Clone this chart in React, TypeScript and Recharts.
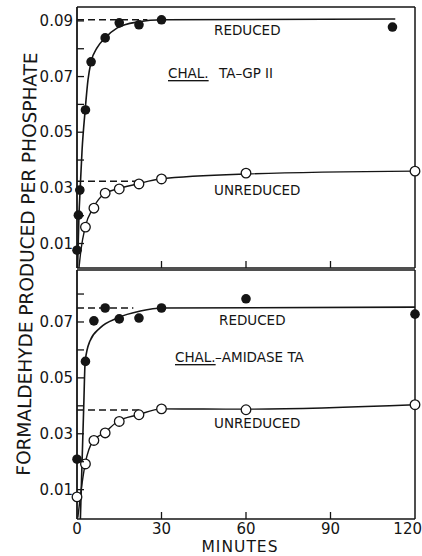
import { ComposedChart, Line, Scatter, XAxis, YAxis, ReferenceLine } from "recharts";

// Minutes after start, formaldehyde produced per phosphate
const topReducedT = [0, 0.5, 1, 3, 5, 10, 15, 22, 30, 112];
const topReducedV = [0.0076, 0.0202, 0.0292, 0.058, 0.0753, 0.0839, 0.0893, 0.0886, 0.0904, 0.0878];
const topUnreducedT = [3, 6, 10, 15, 22, 30, 60, 120];
const topUnreducedV = [0.0159, 0.0227, 0.0281, 0.0296, 0.0314, 0.0332, 0.0353, 0.036];

// hand-drawn curves through the points
const topReducedCurveT = [0.2, 0.7, 1.1, 1.8, 2.9, 3.9, 5, 7.1, 10, 14.3, 21.4, 30.7, 113];
const topReducedCurveV = [0.0012, 0.0202, 0.0292, 0.0436, 0.058, 0.0688, 0.0753, 0.0803, 0.0839, 0.0875, 0.0896, 0.0904, 0.0907];
const topUnreducedCurveT = [0.7, 1.4, 2.9, 5.7, 9.6, 14.3, 21.4, 29.3, 60.4, 120];
const topUnreducedCurveV = [0.0012, 0.0076, 0.0159, 0.0227, 0.0278, 0.0296, 0.0314, 0.0332, 0.035, 0.036];

// dashed plateaus
const topReducedDashT = [0, 25];
const topReducedDashV = [0.0904, 0.0904];
const topUnreducedDashT = [0, 21];
const topUnreducedDashV = [0.0324, 0.0324];

const botReducedT = [0, 3, 6, 10, 15, 22, 30, 60, 120];
const botReducedV = [0.0209, 0.0559, 0.0704, 0.075, 0.0711, 0.0714, 0.075, 0.0783, 0.0728];
const botUnreducedT = [0, 3, 6, 10, 15, 22, 30, 60, 120];
const botUnreducedV = [0.0074, 0.0192, 0.0276, 0.0303, 0.0344, 0.0368, 0.0389, 0.0386, 0.0404];

const botReducedCurveT = [1.2, 1.8, 2.4, 2.9, 4.6, 8.2, 14.3, 22.5, 30.4, 120];
const botReducedCurveV = [-0.0005, 0.02, 0.04, 0.0559, 0.0632, 0.0679, 0.0714, 0.0739, 0.075, 0.0753];
const botUnreducedCurveT = [0.3, 1.5, 2.9, 5.8, 9.7, 14.4, 21.7, 30, 60, 120];
const botUnreducedCurveV = [0, 0.01, 0.0192, 0.0276, 0.0303, 0.0344, 0.0368, 0.0389, 0.0388, 0.0404];

const botReducedDashT = [0, 20];
const botReducedDashV = [0.075, 0.075];
const botUnreducedDashT = [0, 22];
const botUnreducedDashV = [0.0385, 0.0385];

const xTicks = [0, 30, 60, 90, 120];
const topYTicks = [0.01, 0.02, 0.03, 0.04, 0.05, 0.06, 0.07, 0.08, 0.09];
const botYTicks = [0.01, 0.02, 0.03, 0.04, 0.05, 0.06, 0.07, 0.08];

const INK = "#151515";
const FONT = '"DejaVu Sans", sans-serif';

const pts = (t: number[], v: number[]) => t.map((x, i) => ({ t: x, v: v[i] }));

function YTick({ x, y, payload }: any) {
  const v = payload.value;
  const odd = Math.round(v * 100) % 2 === 1;
  return (
    <g>
      <line x1={x} x2={x + 7} y1={y} y2={y} stroke={INK} strokeWidth={1.3} />
      {odd && (
        <text x={x - 4} y={y} textAnchor="end" dominantBaseline="central" fontSize={15} fontFamily={FONT} fill={INK}>
          {v.toFixed(2)}
        </text>
      )}
    </g>
  );
}

const makeXTick = (labels: boolean) =>
  function XTick({ x, y, payload }: any) {
    const v = payload.value;
    const inner = v > 0 && v < 120;
    const last = v === 120;
    return (
      <g>
        {inner && <line x1={x} x2={x} y1={y} y2={y - 7} stroke={INK} strokeWidth={1.3} />}
        {labels && (
          <text
            x={last ? x + 7 : x}
            y={y + 10}
            textAnchor={last ? "end" : "middle"}
            dominantBaseline="central"
            fontSize={15}
            fontFamily={FONT}
            fill={INK}
          >
            {v}
          </text>
        )}
      </g>
    );
  };

const filled = (p: any) => <circle cx={p.cx} cy={p.cy} r={4.8} fill={INK} />;
const open = (p: any) => <circle cx={p.cx} cy={p.cy} r={4.8} fill="#fff" stroke={INK} strokeWidth={1.3} />;

function Panel({
  height,
  margin,
  xHeight,
  labels,
  yDomain,
  yTicks,
  redPts,
  unredPts,
  redCurve,
  unredCurve,
  redDash,
  unredDash,
}: any) {
  return (
    <ComposedChart width={422} height={height} margin={margin}>
      <XAxis
        dataKey="t"
        type="number"
        domain={[0, 120]}
        ticks={xTicks}
        interval={0}
        height={xHeight}
        tickSize={0}
        tickMargin={0}
        tickLine={false}
        tick={makeXTick(labels)}
        stroke={INK}
        strokeWidth={1.6}
      />
      <YAxis
        dataKey="v"
        type="number"
        domain={yDomain}
        allowDataOverflow
        ticks={yTicks}
        interval={0}
        width={77}
        tickSize={0}
        tickMargin={0}
        tickLine={false}
        tick={<YTick />}
        stroke={INK}
        strokeWidth={1.8}
      />
      {/* frame: top and right edges */}
      <ReferenceLine y={yDomain[1]} stroke={INK} strokeWidth={1.5} />
      <ReferenceLine x={120} stroke={INK} strokeWidth={1.5} />
      <Line data={redDash} dataKey="v" type="linear" dot={false} stroke={INK} strokeWidth={1.4} strokeDasharray="7 4" isAnimationActive={false} />
      <Line data={unredDash} dataKey="v" type="linear" dot={false} stroke={INK} strokeWidth={1.4} strokeDasharray="7 4" isAnimationActive={false} />
      <Line data={redCurve} dataKey="v" type="monotone" dot={false} stroke={INK} strokeWidth={1.6} isAnimationActive={false} />
      <Line data={unredCurve} dataKey="v" type="monotone" dot={false} stroke={INK} strokeWidth={1.4} isAnimationActive={false} />
      <Scatter data={unredPts} dataKey="v" shape={open} isAnimationActive={false} />
      <Scatter data={redPts} dataKey="v" shape={filled} isAnimationActive={false} />
    </ComposedChart>
  );
}

const noteStyle = { fontFamily: FONT, fontSize: 13.5, fill: INK } as const;

export default function App() {
  return (
    <div style={{ position: "absolute", left: 0, top: 0, width: 422, height: 556, background: "#fff" }}>
      <div style={{ position: "absolute", left: 0, top: 0 }}>
        <Panel
          height={280}
          margin={{ top: 7, right: 7, bottom: 0, left: 0 }}
          xHeight={12}
          labels={false}
          yDomain={[0.0012, 0.095]}
          yTicks={topYTicks}
          redPts={pts(topReducedT, topReducedV)}
          unredPts={pts(topUnreducedT, topUnreducedV)}
          redCurve={pts(topReducedCurveT, topReducedCurveV)}
          unredCurve={pts(topUnreducedCurveT, topUnreducedCurveV)}
          redDash={pts(topReducedDashT, topReducedDashV)}
          unredDash={pts(topUnreducedDashT, topUnreducedDashV)}
        />
      </div>
      <div style={{ position: "absolute", left: 0, top: 262 }}>
        <Panel
          height={294}
          margin={{ top: 8, right: 7, bottom: 0, left: 0 }}
          xHeight={37}
          labels={true}
          yDomain={[-0.0005, 0.0886]}
          yTicks={botYTicks}
          redPts={pts(botReducedT, botReducedV)}
          unredPts={pts(botUnreducedT, botUnreducedV)}
          redCurve={pts(botReducedCurveT, botReducedCurveV)}
          unredCurve={pts(botUnreducedCurveT, botUnreducedCurveV)}
          redDash={pts(botReducedDashT, botReducedDashV)}
          unredDash={pts(botUnreducedDashT, botUnreducedDashV)}
        />
      </div>
      <svg width={422} height={556} style={{ position: "absolute", left: 0, top: 0, pointerEvents: "none" }}>
        <text
          transform="translate(27,264) rotate(-89)"
          textAnchor="middle"
          dominantBaseline="central"
          fontFamily={FONT}
          fontSize={18.5}
          fill={INK}
        >
          FORMALDEHYDE PRODUCED PER PHOSPHATE
        </text>
        <text x={240} y={547} textAnchor="middle" dominantBaseline="central" fontFamily={FONT} fontSize={15.5} letterSpacing={1} fill={INK}>
          MINUTES
        </text>

        <text x={214} y={30} dominantBaseline="central" style={noteStyle}>REDUCED</text>
        <text x={168} y={73} dominantBaseline="central" style={noteStyle} textDecoration="underline">CHAL.</text>
        <text x={219} y={73} dominantBaseline="central" style={noteStyle}>TA–GP II</text>
        <text x={214} y={190} dominantBaseline="central" style={noteStyle}>UNREDUCED</text>

        <text x={219} y={320} dominantBaseline="central" style={noteStyle}>REDUCED</text>
        <text x={175} y={357} dominantBaseline="central" style={noteStyle} textDecoration="underline">CHAL.</text>
        <text x={215} y={357} dominantBaseline="central" style={noteStyle}>–AMIDASE TA</text>
        <text x={214} y={423} dominantBaseline="central" style={noteStyle}>UNREDUCED</text>
      </svg>
    </div>
  );
}
